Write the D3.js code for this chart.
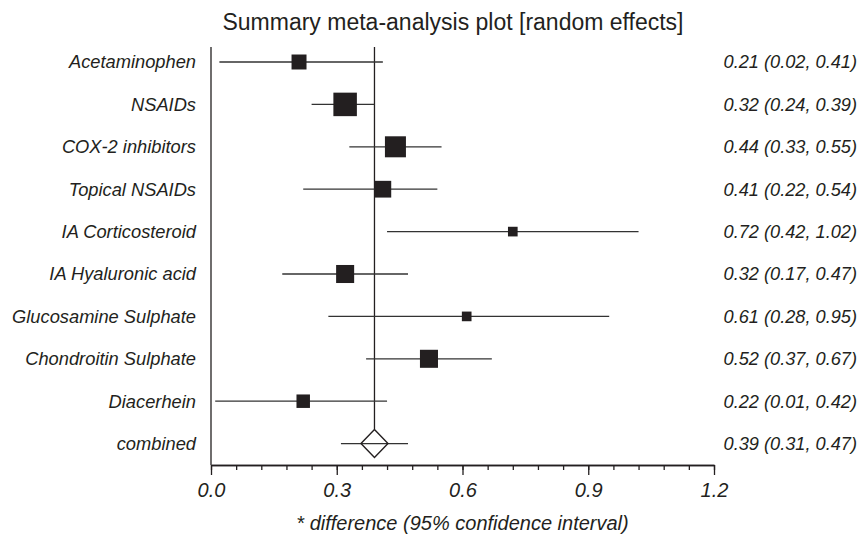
<!DOCTYPE html>
<html>
<head>
<meta charset="utf-8">
<script src="https://cdn.jsdelivr.net/npm/d3@7"></script>
<style>
  body { margin: 0; background: #fff; }
  text { font-family: "Liberation Sans", Arial, sans-serif; fill: #231f20; }
</style>
</head>
<body>
<svg width="865" height="538"></svg>
<script>
// Studies, point estimates and confidence limits
var studies = ["Acetaminophen", "NSAIDs", "COX-2 inhibitors", "Topical NSAIDs", "IA Corticosteroid",
  "IA Hyaluronic acid", "Glucosamine Sulphate", "Chondroitin Sulphate", "Diacerhein"];
var estimates = [0.21, 0.32, 0.44, 0.41, 0.72, 0.32, 0.61, 0.52, 0.22];
var lower = [0.02, 0.24, 0.33, 0.22, 0.42, 0.17, 0.28, 0.37, 0.01];
var upper = [0.41, 0.39, 0.55, 0.54, 1.02, 0.47, 0.95, 0.67, 0.42];
// relative weights (%) -> square area
var weights = [8.9, 21.9, 17.5, 11.1, 3.7, 12.9, 3.7, 12.9, 7.2];

// combined result
var combined = { label: "combined", est: 0.39, lo: 0.31, hi: 0.47 };

var majorTicks = [0, 0.3, 0.6, 0.9, 1.2];

var svg = d3.select("svg");
var fmt = d3.format(".2f");

var x = d3.scaleLinear().domain([0, 1.2]).range([211, 714]);
var y = d3.scaleLinear().domain([0, 9]).range([62, 443.6]);
var side = d3.scaleSqrt().domain([0, d3.max(weights)]).range([0, 23.5]);

var axisY = 465, topY = 47;

// title
svg.append("text")
  .attr("x", 453).attr("y", 30)
  .attr("text-anchor", "middle")
  .attr("font-size", 23)
  .text("Summary meta-analysis plot [random effects]");

// left frame line
svg.append("line")
  .attr("x1", x(0)).attr("x2", x(0))
  .attr("y1", topY).attr("y2", axisY)
  .attr("stroke", "#231f20").attr("stroke-width", 1.3);

// reference line at the combined estimate
svg.append("line")
  .attr("x1", x(combined.est)).attr("x2", x(combined.est))
  .attr("y1", topY).attr("y2", y(9) - 14)
  .attr("stroke", "#231f20").attr("stroke-width", 1.3);

// rows
var rows = svg.append("g");
studies.forEach(function(name, i) {
  var cy = y(i);
  rows.append("line")
    .attr("x1", x(lower[i])).attr("x2", x(upper[i]))
    .attr("y1", cy).attr("y2", cy)
    .attr("stroke", "#333").attr("stroke-width", 1.3);
  var s = side(weights[i]);
  rows.append("rect")
    .attr("x", x(estimates[i]) - s / 2).attr("y", cy - s / 2)
    .attr("width", s).attr("height", s)
    .attr("fill", "#231f20");
  rows.append("text")
    .attr("x", 196).attr("y", cy).attr("dy", "0.35em")
    .attr("text-anchor", "end").attr("font-size", 18.3).attr("font-style", "italic")
    .text(name);
  rows.append("text")
    .attr("x", 857).attr("y", cy).attr("dy", "0.35em")
    .attr("text-anchor", "end").attr("font-size", 18.2).attr("font-style", "italic")
    .text(fmt(estimates[i]) + " (" + fmt(lower[i]) + ", " + fmt(upper[i]) + ")");
});

// combined row: CI line and diamond
var cy = y(9), cx = x(combined.est);
rows.append("line")
  .attr("x1", x(combined.lo)).attr("x2", x(combined.hi))
  .attr("y1", cy).attr("y2", cy)
  .attr("stroke", "#333").attr("stroke-width", 1.3);
rows.append("path")
  .attr("d", "M" + (cx - 13.5) + "," + cy + "L" + cx + "," + (cy - 14) +
    "L" + (cx + 13.5) + "," + cy + "L" + cx + "," + (cy + 14) + "Z")
  .attr("fill", "none")
  .attr("stroke", "#231f20").attr("stroke-width", 1.4);
rows.append("text")
  .attr("x", 196).attr("y", cy).attr("dy", "0.35em")
  .attr("text-anchor", "end").attr("font-size", 18.3).attr("font-style", "italic")
  .text(combined.label);
rows.append("text")
  .attr("x", 857).attr("y", cy).attr("dy", "0.35em")
  .attr("text-anchor", "end").attr("font-size", 18.2).attr("font-style", "italic")
  .text(fmt(combined.est) + " (" + fmt(combined.lo) + ", " + fmt(combined.hi) + ")");

// x axis: minor ticks every 0.06, labelled majors every 0.3
var minorTicks = d3.range(0, 20 + 1).map(function(k) { return k * 0.06; });
var minorAxis = svg.append("g")
  .attr("transform", "translate(0," + axisY + ")")
  .call(d3.axisBottom(x).tickValues(minorTicks).tickSize(5).tickSizeOuter(0).tickFormat(""));
var majorAxis = svg.append("g")
  .attr("transform", "translate(0," + axisY + ")")
  .call(d3.axisBottom(x).tickValues(majorTicks).tickSize(10).tickSizeOuter(0).tickPadding(8)
    .tickFormat(d3.format(".1f")));
svg.selectAll(".domain, .tick line").attr("stroke", "#231f20").attr("stroke-width", 1.3);
majorAxis.selectAll("text")
  .attr("font-size", 20).attr("font-style", "italic")
  .attr("font-family", "'Liberation Sans', Arial, sans-serif").attr("fill", "#231f20");

// axis title
svg.append("text")
  .attr("x", (x(0) + x(1.2)) / 2).attr("y", 530)
  .attr("text-anchor", "middle").attr("font-size", 20).attr("font-style", "italic")
  .text("* difference (95% confidence interval)");
</script>
</body>
</html>
